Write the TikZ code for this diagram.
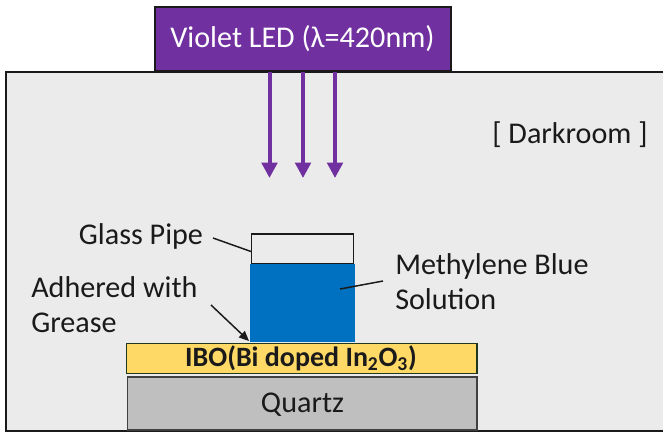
\documentclass[tikz,border=0pt]{standalone}
\usepackage{fontspec}
\setmainfont{Carlito}
\usetikzlibrary{arrows.meta}
\definecolor{roomgray}{RGB}{235,235,235}
\definecolor{ledviolet}{RGB}{112,48,160}
\definecolor{solblue}{RGB}{0,112,192}
\definecolor{iboyellow}{RGB}{255,217,102}
\definecolor{quartzgray}{RGB}{191,191,191}
\definecolor{inkblack}{RGB}{26,26,26}
\definecolor{edgegreen}{RGB}{30,55,30}
\tikzset{
  x=0.75pt,y=-0.75pt,
  boxline/.style={draw=inkblack,line width=1.5pt},
  lbl/.style={text=inkblack,font=\fontsize{22.6}{26.5}\selectfont,inner sep=0pt},
  ray/.style={draw=ledviolet,line width=3pt,-{Triangle[length=11.5pt,width=11.5pt]}},
  leader/.style={draw=inkblack,line width=1.1pt},
  pad/.style={inner sep=0pt,outer sep=0pt,minimum width=0pt,minimum height=0pt}
}
\begin{document}
\begin{tikzpicture}
\useasboundingbox (0,0) rectangle (663,433);
\fill[white] (0,0) rectangle (663,433);
\path[fill=roomgray] (6,72) rectangle (670,431);
\draw[boxline] (670,72) -- (6,72) -- (6,431) -- (670,431);
\node[boxline,fill=ledviolet,pad,minimum width=222pt,minimum height=48pt,anchor=north west] (led) at (154.5,6.5) {};
\node[text=white,font=\fontsize{22.6}{26.5}\selectfont,inner sep=0pt] (ledt) at (302.5,39) {Violet LED (λ=420nm)};
\coordinate (r1s) at (269.5,72); \coordinate (r1e) at (269.5,178);
\coordinate (r2s) at (303,72); \coordinate (r2e) at (303,178);
\coordinate (r3s) at (335,72); \coordinate (r3e) at (335,178);
\draw[ray] (r1s) -- (r1e);
\draw[ray] (r2s) -- (r2e);
\draw[ray] (r3s) -- (r3e);
\node[lbl] (room) at (570,135) {[ Darkroom ]};
\node[fill=solblue,pad,minimum width=78.75pt,minimum height=58.5pt,anchor=north west] (sol) at (250,264) {};
\node[draw=inkblack,line width=1.1pt,fill=roomgray,pad,minimum width=76.5pt,minimum height=22pt,anchor=north west] (pipe) at (251.5,234) {};
\node[draw=edgegreen,line width=1.4pt,fill=iboyellow,pad,minimum width=263pt,minimum height=22.5pt,anchor=north west] (ibo) at (126.5,343.5) {};
\node[font=\bfseries\fontsize{21}{25}\selectfont,text=inkblack,inner sep=0pt] (ibot) at (301,358.5) {IBO(Bi doped In$_{\mathbf{2}}$O$_{\mathbf{3}}$)};
\node[draw=black!75,line width=1.4pt,fill=quartzgray,pad,minimum width=262pt,minimum height=40pt,anchor=north west] (qz) at (127.5,377) {};
\node[lbl] (qzt) at (302.5,405) {Quartz};
\node[lbl] (gp) at (141,236) {Glass Pipe};
\node[lbl,align=left,anchor=west] (ad) at (31,304.5) {Adhered with\\Grease};
\node[lbl,align=left,anchor=west] (mb) at (395,281.5) {Methylene Blue\\Solution};
\coordinate (gpa) at (213,238); \coordinate (gpb) at (251,251.5);
\coordinate (mba) at (383,281); \coordinate (mbb) at (340,289);
\coordinate (ada) at (211,305); \coordinate (adb) at (249,341);
\draw[leader] (gpa) -- (gpb);
\draw[leader] (mba) -- (mbb);
\draw[leader,-{Triangle[length=7.5pt,width=6.5pt]}] (ada) -- (adb);
\end{tikzpicture}
\end{document}
